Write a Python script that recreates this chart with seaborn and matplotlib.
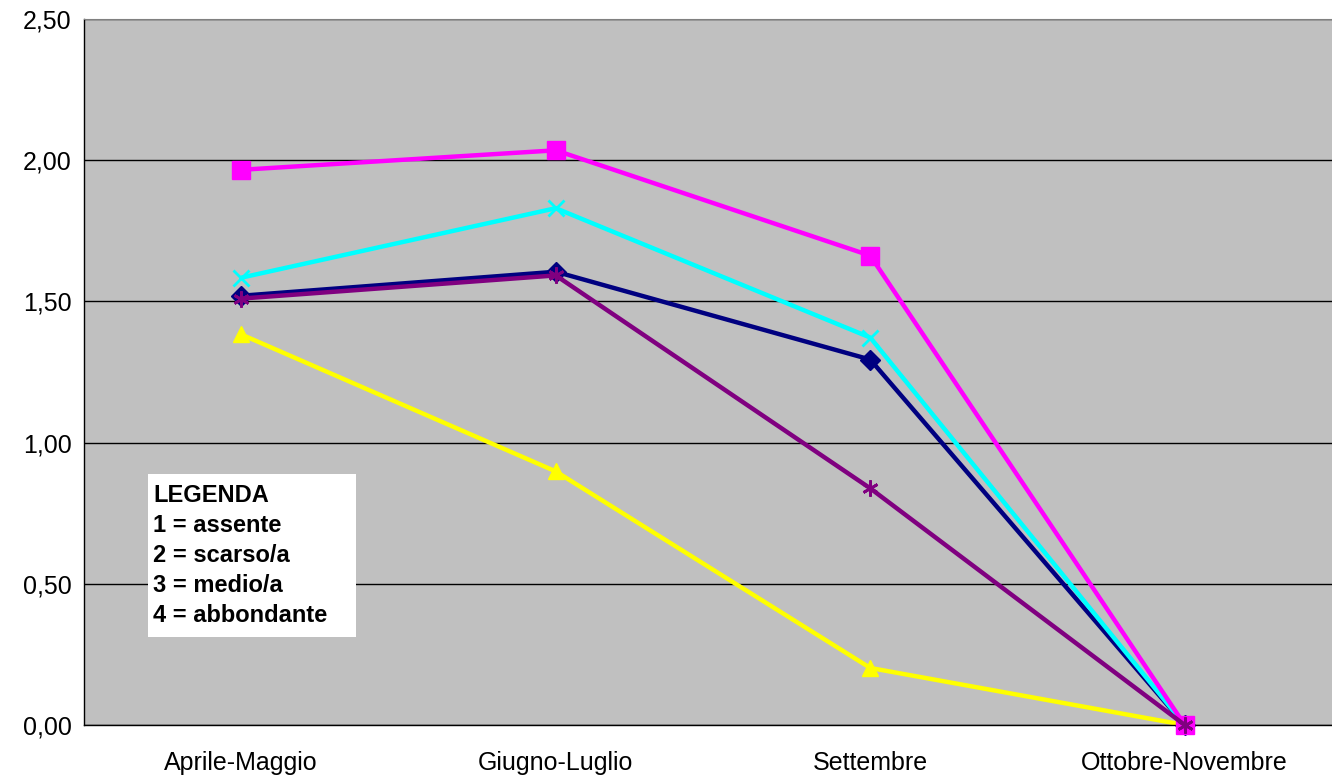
import matplotlib
matplotlib.use("Agg")
import matplotlib.pyplot as plt
import seaborn as sns
import pandas as pd
from matplotlib.patches import Rectangle

categories = ["Aprile-Maggio", "Giugno-Luglio", "Settembre", "Ottobre-Novembre"]
navy_vals = [1.52, 1.605, 1.294, 0.0]
magenta_vals = [1.966, 2.035, 1.662, 0.0]
yellow_vals = [1.383, 0.898, 0.202, 0.0]
cyan_vals = [1.584, 1.83, 1.372, 0.0]
purple_vals = [1.51, 1.592, 0.838, 0.0]
yticks = [0.0, 0.5, 1.0, 1.5, 2.0, 2.5]
ytick_labels = ["0,00", "0,50", "1,00", "1,50", "2,00", "2,50"]
legend_lines = ["LEGENDA", "1 = assente", "2 = scarso/a", "3 = medio/a", "4 = abbondante"]

sns.set_style("white")
plt.rcParams["font.family"] = ["Liberation Sans", "DejaVu Sans"]
plt.rcParams["text.color"] = "black"
plt.rcParams["xtick.color"] = "black"
plt.rcParams["ytick.color"] = "black"

W, H = 1332, 780
fig = plt.figure(figsize=(W / 100, H / 100), dpi=100)
ax = fig.add_axes([84 / W, 1 - 725 / H, (1342 - 84) / W, (725 - 19) / H])
ax.set_facecolor("#C0C0C0")

series = [
    (navy_vals, "#000080", "D", 10, 1),
    (yellow_vals, "#FFFF00", "^", 12, 2),
    (cyan_vals, "#00FFFF", "x", 11.5, 3),
    (magenta_vals, "#FF00FF", "s", 12.5, 4),
    (purple_vals, "#800080", (6, 2, 0), 11.5, 5),
]
xs = list(range(len(categories)))
for vals, col, mk, ms, z in series:
    df = pd.DataFrame({"x": xs, "y": vals})
    sns.lineplot(data=df, x="x", y="y", ax=ax, color=col, linewidth=3.2,
                 marker=mk, markersize=ms, markeredgecolor=col,
                 markerfacecolor=col, markeredgewidth=2 if mk in ("x", (6, 2, 0)) else 1,
                 zorder=z, legend=False, clip_on=False)

ax.set_xlim(-0.5, 3.5)
ax.set_ylim(0, 2.5)
ax.set_yticks(yticks)
ax.set_yticklabels(ytick_labels, fontsize=18)
ax.set_xticks([0.5, 1.5, 2.5])
ax.set_xticklabels([])
ax.set_xticks(xs, minor=True)
ax.set_xticklabels(categories, minor=True, fontsize=18)
ax.tick_params(axis="x", which="minor", length=0, pad=19)
ax.tick_params(axis="x", which="major", length=6, width=1, color="black", direction="out")
ax.tick_params(axis="y", length=5, width=1, color="black", direction="out", pad=4)
ax.set_xlabel("")
ax.set_ylabel("")
ax.yaxis.grid(True, color="black", linewidth=1)
ax.set_axisbelow(True)
for s in ["left", "bottom"]:
    ax.spines[s].set_color("black")
    ax.spines[s].set_linewidth(1)
ax.spines["top"].set_color("#808080")
ax.spines["right"].set_visible(False)

fig.add_artist(Rectangle((148 / W, 1 - 637 / H), (356 - 148) / W, (637 - 474) / H,
                         transform=fig.transFigure, facecolor="white", edgecolor="none",
                         zorder=10))
for i, line in enumerate(legend_lines):
    fig.text(153 / W, 1 - (493 + 30 * i) / H, line, fontsize=17, fontweight="bold",
             va="center_baseline", ha="left", color="black", zorder=11)

fig.savefig("out.png", dpi=100)
